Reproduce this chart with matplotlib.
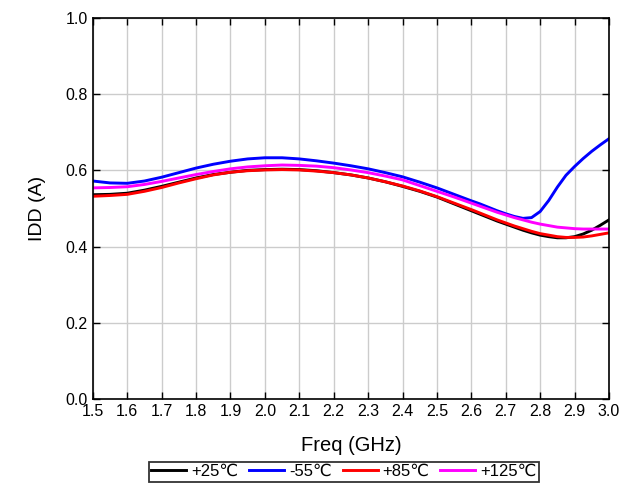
import numpy as np
import matplotlib.pyplot as plt

plt.rcParams['font.family'] = ['Liberation Sans', 'DejaVu Sans']

freq = [1.5, 1.55, 1.6, 1.65, 1.7, 1.75, 1.8, 1.85, 1.9, 1.95, 2.0, 2.05, 2.1, 2.15, 2.2, 2.25,
        2.3, 2.35, 2.4, 2.45, 2.5, 2.55,
        2.6, 2.625, 2.65, 2.675, 2.7, 2.725, 2.75, 2.775, 2.8, 2.825, 2.85, 2.875, 2.9, 2.925,
        2.95, 2.975, 3.0]

idd_p25 = [0.536, 0.537, 0.540, 0.548, 0.558, 0.569, 0.580, 0.589, 0.595, 0.600, 0.602, 0.603,
           0.602, 0.599, 0.594, 0.588, 0.580, 0.570, 0.558, 0.545, 0.530, 0.512,
           0.494, 0.485, 0.476, 0.467, 0.459, 0.451, 0.443, 0.436, 0.430, 0.426, 0.423, 0.423,
           0.426, 0.433, 0.443, 0.456, 0.470]
idd_m55 = [0.572, 0.567, 0.566, 0.572, 0.582, 0.594, 0.606, 0.616, 0.624, 0.630, 0.633, 0.633,
           0.630, 0.625, 0.619, 0.612, 0.604, 0.594, 0.583, 0.569, 0.554, 0.537,
           0.520, 0.512, 0.503, 0.494, 0.486, 0.479, 0.474, 0.476, 0.492, 0.521, 0.556, 0.587,
           0.610, 0.631, 0.650, 0.667, 0.683]
idd_p85 = [0.532, 0.534, 0.537, 0.545, 0.555, 0.567, 0.578, 0.588, 0.595, 0.599, 0.601, 0.602,
           0.601, 0.598, 0.594, 0.588, 0.580, 0.570, 0.559, 0.546, 0.531, 0.514,
           0.497, 0.488, 0.479, 0.470, 0.462, 0.454, 0.447, 0.440, 0.434, 0.430, 0.426, 0.424,
           0.424, 0.425, 0.428, 0.432, 0.436]
idd_p125 = [0.554, 0.555, 0.557, 0.563, 0.571, 0.580, 0.589, 0.597, 0.604, 0.609, 0.612, 0.614,
            0.613, 0.611, 0.607, 0.601, 0.594, 0.585, 0.575, 0.560, 0.545, 0.530,
            0.514, 0.506, 0.498, 0.490, 0.483, 0.476, 0.470, 0.464, 0.459, 0.455, 0.451, 0.449,
            0.447, 0.446, 0.446, 0.446, 0.446]

labels = ['+25\u2103', '-55\u2103', '+85\u2103', '+125\u2103']
colors = ['black', '#0000ff', '#ff0000', '#ff00ff']

fig = plt.figure(figsize=(6.36, 4.84), dpi=100)
ax = fig.add_axes([0.146, 0.1756, 0.8115, 0.7874])

for y, lab, c in zip([idd_p25, idd_m55, idd_p85, idd_p125], labels, colors):
    ax.plot(freq, y, color=c, lw=2.1, label=lab)

ax.set_xlim(1.5, 3.0)
ax.set_ylim(0, 1.0)
xt = np.arange(1.5, 3.01, 0.1)
ax.set_xticks(xt)
ax.set_xticklabels(['%.1f' % v for v in xt])
yt = np.arange(0, 1.01, 0.2)
ax.set_yticks(yt)
ax.set_yticklabels(['%.1f' % v for v in yt])
ax.grid(True, color='#cccccc', lw=1)
ax.tick_params(direction='in', top=True, right=True, labelsize=11.5, length=5, width=1)
for s in ax.spines.values():
    s.set_linewidth(1.2)
ax.set_xlabel('Freq (GHz)', fontsize=14.5, labelpad=12)
ax.set_ylabel('IDD (A)', fontsize=14, labelpad=14)

leg = fig.legend(loc='upper center', bbox_to_anchor=(0.541, 0.046), ncol=4, fontsize=12,
                 frameon=True, fancybox=False, edgecolor='black', handlelength=2.1,
                 columnspacing=0.65, handletextpad=0.3, borderpad=0.15, borderaxespad=0)
leg.get_frame().set_linewidth(1.3)

fig.savefig('out.png', dpi=100)
